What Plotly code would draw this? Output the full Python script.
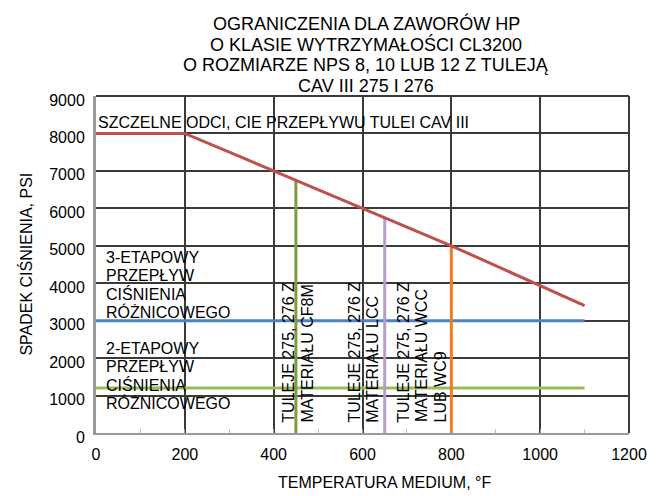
import plotly.graph_objects as go

# ---------------- data ----------------
limit_temps = [0, 200, 800, 1100]          # °F
limit_dp = [8000, 8000, 5000, 3400]        # psi, CAV III tight shutoff limit

stage_temps = [0, 1100]
three_stage_dp = [3000, 3000]
two_stage_dp = [1200, 1200]

sleeve_temps = [450, 650, 800]
sleeve_max_dp = [6750, 5750, 5000]
sleeve_labels = [
    ["TULEJE 275, 276 Z", "MATERIAŁU CF8M"],
    ["TULEJE 275, 276 Z", "MATERIAŁU LCC"],
    ["TULEJE 275, 276 Z", "MATERIAŁU WCC", "LUB WC9"],
]

x_ticks = [0, 200, 400, 600, 800, 1000, 1200]
y_ticks = [0, 1000, 2000, 3000, 4000, 5000, 6000, 7000, 8000, 9000]

title_lines = [
    "OGRANICZENIA DLA ZAWORÓW HP",
    "O KLASIE WYTRZYMAŁOŚCI CL3200",
    "O ROZMIARZE NPS 8, 10 LUB 12 Z TULEJĄ",
    "CAV III 275 I 276",
]
three_stage_text = ["3-ETAPOWY", "PRZEPŁYW", "CIŚNIENIA", "RÓŻNICOWEGO"]
two_stage_text = ["2-ETAPOWY", "PRZEPŁYW", "CIŚNIENIA", "RÓŻNICOWEGO"]
shutoff_text = "SZCZELNE ODCI, CIE PRZEPŁYWU TULEI CAV III"
x_title = "TEMPERATURA MEDIUM, °F"
y_title = "SPADEK CIŚNIENIA, PSI"

# ---------------- style ----------------
FONT = "Liberation Sans, Arial, sans-serif"
sleeve_colors = ["#7F9C3D", "#B49FC6", "#F07C1E"]
GRID = "#3a3a3a"
AXIS = "#9a9a9a"
LINE_GAP = 18.4

fig = go.Figure()

fig.add_trace(go.Scatter(x=stage_temps, y=three_stage_dp, mode="lines",
                         line=dict(color="#4F81BD", width=3), hoverinfo="skip"))
fig.add_trace(go.Scatter(x=stage_temps, y=two_stage_dp, mode="lines",
                         line=dict(color="#9BBB59", width=3), hoverinfo="skip"))
for t, p, c in zip(sleeve_temps, sleeve_max_dp, sleeve_colors):
    fig.add_trace(go.Scatter(x=[t, t], y=[0, p], mode="lines",
                             line=dict(color=c, width=3), hoverinfo="skip"))
fig.add_trace(go.Scatter(x=limit_temps, y=limit_dp, mode="lines",
                         line=dict(color="#C0504D", width=3), hoverinfo="skip"))

ann = []
# title lines
for i, txt in enumerate(title_lines):
    ann.append(dict(text=txt, xref="paper", yref="paper", x=0.5066, y=1,
                    xanchor="center", yanchor="middle", yshift=73 - i * 21,
                    showarrow=False, font=dict(size=18, color="black", family=FONT)))
# shutoff text
ann.append(dict(text=shutoff_text, xref="x", yref="y", x=0, y=8280,
                xanchor="left", yanchor="middle", showarrow=False,
                font=dict(size=16, color="black", family=FONT)))
# stage texts
for block, y0 in ((three_stage_text, 4700), (two_stage_text, 2270)):
    for i, txt in enumerate(block):
        ann.append(dict(text=txt, xref="x", yref="y", x=18, y=y0,
                        xanchor="left", yanchor="middle", yshift=-LINE_GAP * i,
                        showarrow=False, font=dict(size=16, color="black", family=FONT)))
# sleeve texts (rotated)
col_x = [434, 582, 693]
for lines, cx in zip(sleeve_labels, col_x):
    for i, txt in enumerate(lines):
        ann.append(dict(text=txt, xref="x", yref="y", x=cx, y=230,
                        xanchor="center", yanchor="bottom", xshift=LINE_GAP * i,
                        textangle=-90, showarrow=False,
                        font=dict(size=16, color="black", family=FONT)))
# axis titles
ann.append(dict(text=x_title, xref="paper", yref="paper", x=0.542, y=-0.148,
                xanchor="center", yanchor="middle", showarrow=False,
                font=dict(size=16, color="black", family=FONT)))
ann.append(dict(text=y_title, xref="paper", yref="paper", x=-0.133, y=0.5,
                xanchor="center", yanchor="middle", textangle=-90, showarrow=False,
                font=dict(size=16, color="black", family=FONT)))

# frame edges at top and right (grid lines at the range edges are not drawn)
shapes = [
    dict(type="line", xref="paper", yref="paper", x0=0, x1=1, y0=1, y1=1,
         line=dict(color=GRID, width=2)),
    dict(type="line", xref="paper", yref="paper", x0=1, x1=1, y0=0, y1=1,
         line=dict(color=GRID, width=2)),
]

fig.update_layout(
    width=650, height=488,
    margin=dict(l=88, r=29, t=88, b=63),
    paper_bgcolor="white", plot_bgcolor="white",
    showlegend=False,
    font=dict(family=FONT, color="black", size=16),
    annotations=ann,
    shapes=shapes,
    xaxis=dict(range=[0, 1200], tickvals=x_ticks, showgrid=True, gridcolor=GRID,
               gridwidth=2, zeroline=False, showline=True, linecolor=AXIS, linewidth=2,
               ticks="inside", ticklen=4, tickcolor=AXIS,
               minor=dict(dtick=100, ticks="inside", ticklen=4, tickcolor="#c0c0c0",
                          showgrid=False),
               tickfont=dict(size=16, color="black", family=FONT),
               ticklabelstandoff=6),
    yaxis=dict(range=[0, 9000], tickvals=y_ticks, showgrid=True, gridcolor=GRID,
               gridwidth=2, zeroline=False, showline=True, linecolor=AXIS, linewidth=3,
               ticks="", tickfont=dict(size=16, color="black", family=FONT),
               ticklabelstandoff=5, ticklabelshift=4),
)

fig.write_html("out.html")
